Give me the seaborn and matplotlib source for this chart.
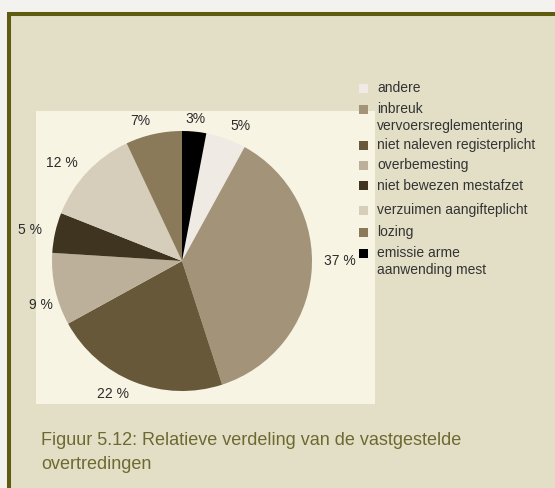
import matplotlib
matplotlib.use("Agg")
import matplotlib.pyplot as plt
from matplotlib.patches import Rectangle
import seaborn as sns

# data (legend order); pie is drawn clockwise starting after the black slice
categories = ["andere", "inbreuk\nvervoersreglementering", "niet naleven registerplicht",
              "overbemesting", "niet bewezen mestafzet", "verzuimen aangifteplicht",
              "lozing", "emissie arme\naanwending mest"]
shares = [5, 37, 22, 9, 5, 12, 7, 3]
pct_labels = ["5%", "37 %", "22 %", "9 %", "5 %", "12 %", "7%", "3%"]
colors = ["#efebe4", "#a39479", "#67583a", "#bcb09a", "#3e3420", "#d6cdbb", "#8a7a5a", "#000000"]
caption = ["Figuur 5.12: Relatieve verdeling van de vastgestelde", "overtredingen"]

sns.set_theme(style="white")
plt.rcParams["font.family"] = ["Liberation Sans", "DejaVu Sans"]

W, H = 555, 488
fig = plt.figure(figsize=(W / 100, H / 100), dpi=100, facecolor="#f4f2ee")


def fx(x):
    return x / W


def fy(y):
    return 1 - y / H


# framed box and light chart panel
fig.patches.append(Rectangle((fx(9), fy(700)), fx(700), fy(14) - fy(700), transform=fig.transFigure,
                             facecolor="#e3dfc7", edgecolor="#5f5b10", lw=2.9, zorder=-2))
fig.patches.append(Rectangle((fx(36), fy(404)), fx(375) - fx(36), fy(111) - fy(404),
                             transform=fig.transFigure, facecolor="#f7f4e4", edgecolor="none", zorder=-1))

# pie
cx, cy, r = 182, 261, 130
ax = fig.add_axes([fx(cx - r), fy(cy + r), 2 * r / W, 2 * r / H])
ax.set_zorder(2)
start = 90 - shares[-1] / sum(shares) * 360
wedges, texts = ax.pie(shares, labels=pct_labels, colors=colors, startangle=start,
                       counterclock=False, labeldistance=1.1,
                       wedgeprops={"linewidth": 0, "edgecolor": "none"},
                       textprops={"fontsize": 10, "color": "#2b2b2b"})
# small nudges so the labels sit where the original puts them
nudge = {1: (0.0, 0.1), 3: (0.08, -0.1), 7: (-0.08, 0.0)}
for i, (dx, dy) in nudge.items():
    x, y = texts[i].get_position()
    texts[i].set_position((x + dx, y + dy))
ax.set_xlim(-1, 1)
ax.set_ylim(-1, 1)
ax.set_aspect("auto")
ax.axis("off")

# legend (squares aligned to first line of each entry)
leg_y = [88, 109, 145, 165, 186, 210, 232, 253]
for name, col, y in zip(categories, colors, leg_y):
    fig.patches.append(Rectangle((fx(359), fy(y + 4.5)), 9 / W, 9 / H, transform=fig.transFigure,
                                 facecolor=col, edgecolor="none", zorder=3))
    for i, line in enumerate(name.split("\n")):
        fig.text(fx(377), fy(y + 4 + 17 * i), line, fontsize=10, color="#333333",
                 va="baseline", ha="left")

# caption
fig.text(fx(41), fy(445), caption[0], fontsize=13, color="#6e6930", va="baseline")
fig.text(fx(41), fy(469), caption[1], fontsize=13, color="#6e6930", va="baseline")

fig.savefig("out.png", dpi=100, facecolor=fig.get_facecolor())
